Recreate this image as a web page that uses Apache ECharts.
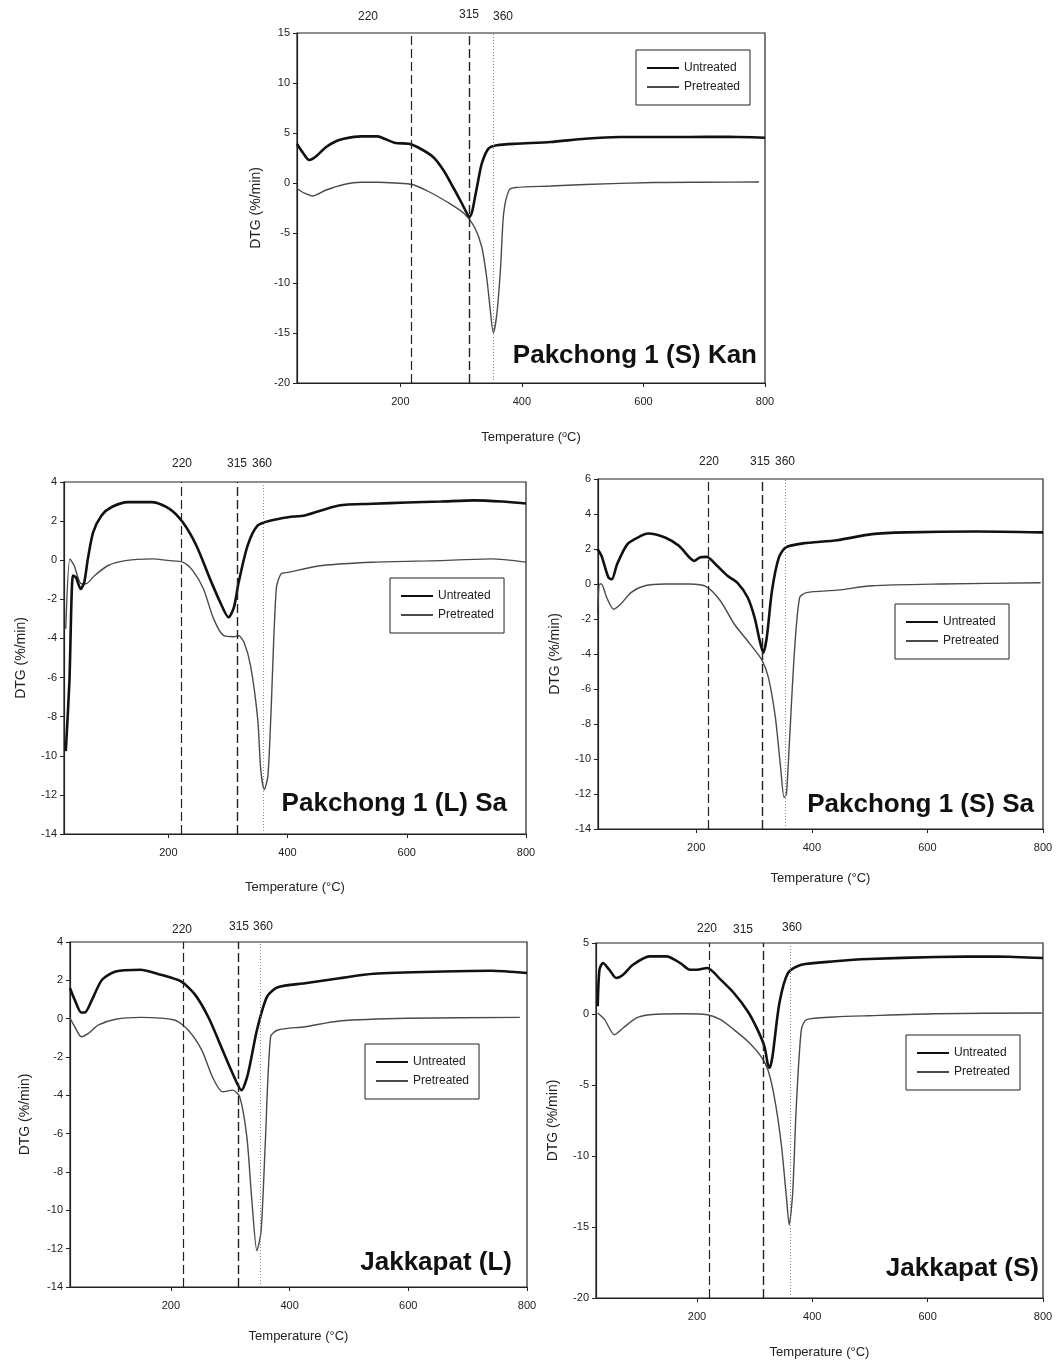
<!DOCTYPE html>
<html>
<head>
<meta charset="utf-8">
<script src="https://cdn.jsdelivr.net/npm/echarts@6/dist/echarts.min.js"></script>
<style>
html,body{margin:0;padding:0;background:#fff;}
#chart{width:1062px;height:1363px;}
</style>
</head>
<body>
<div id="chart"></div>
<script>
// ---------------- DATA ----------------
// Panel titles
const panelTitles = ['Pakchong 1 (S) Kan', 'Pakchong 1 (L) Sa', 'Pakchong 1 (S) Sa', 'Jakkapat (L)', 'Jakkapat (S)'];
const seriesNames = ['Untreated', 'Pretreated'];
const markerLabels = ['220', '315', '360'];

// Reference line positions (°C) for each panel: [dashed, dashed, dotted]
const kanMarkers = [218, 313, 353];
const lSaMarkers = [221, 315, 360];
const sSaMarkers = [220, 315, 354];
const jkLMarkers = [221, 313, 350];
const jkSMarkers = [221, 315, 361];

// y-axis ranges [min, max, interval]
const kanY = [-20, 15, 5];
const lSaY = [-14, 4, 2];
const sSaY = [-14, 6, 2];
const jkLY = [-14, 4, 2];
const jkSY = [-20, 5, 5];

const xTicks = [200, 400, 600, 800];

// Pakchong 1 (S) Kan
const kanUntreated = [[30,3.9],[40,3.0],[50,2.3],[60,2.6],[78,3.6],[95,4.2],[107,4.43],[135,4.66],[163,4.66],[175,4.4],[192,4.0],[214,3.93],[231,3.5],[254,2.6],[271,1.27],[288,-0.55],[300,-1.9],[311,-3.2],[314,-3.38],[318,-2.9],[322,-1.7],[328,0.2],[334,1.94],[345,3.43],[359,3.77],[390,3.93],[447,4.1],[504,4.43],[561,4.6],[674,4.6],[740,4.62],[800,4.53]];
const kanPretreated = [[30,-0.55],[40,-0.95],[50,-1.2],[55,-1.3],[78,-0.7],[107,-0.15],[135,0.08],[163,0.08],[192,0.0],[220,-0.15],[248,-0.9],[277,-1.9],[305,-3.05],[322,-4.4],[334,-6.4],[342,-9.4],[348,-12.7],[353,-15.0],[359,-13.0],[365,-8.4],[370,-3.05],[379,-0.7],[390,-0.45],[447,-0.3],[504,-0.15],[617,0.05],[700,0.08],[790,0.1]];

// Pakchong 1 (L) Sa
const lSaUntreated = [[28,-9.76],[34,-6.26],[40,-0.79],[45,-0.87],[53,-1.47],[59,-1.13],[65,0.07],[74,1.44],[88,2.29],[105,2.72],[133,2.97],[173,2.97],[202,2.63],[224,1.95],[247,0.75],[270,-0.96],[287,-2.15],[301,-2.92],[310,-2.41],[318,-1.13],[333,0.75],[350,1.78],[372,2.03],[401,2.2],[429,2.29],[486,2.8],[543,2.89],[600,2.95],[657,3.0],[713,3.06],[760,3.0],[800,2.9]];
const lSaPretreated = [[28,-3.5],[35,0.07],[42,-0.27],[54,-1.2],[62,-1.2],[76,-0.79],[99,-0.27],[128,-0.02],[173,0.07],[202,-0.02],[224,-0.1],[241,-0.53],[259,-1.47],[276,-3.0],[293,-3.86],[310,-3.91],[318,-3.86],[327,-4.2],[338,-5.4],[350,-8.14],[355,-10.7],[361,-11.73],[367,-11.04],[372,-7.97],[381,-1.47],[389,-0.7],[401,-0.62],[458,-0.27],[543,-0.1],[657,-0.02],[742,0.07],[800,-0.1]];

// Pakchong 1 (S) Sa
const sSaUntreated = [[29,2.0],[36,1.61],[48,0.37],[54,0.27],[63,1.13],[81,2.28],[105,2.76],[117,2.89],[146,2.66],[170,2.18],[188,1.52],[197,1.32],[206,1.52],[218,1.55],[236,1.04],[254,0.47],[271,0.08],[289,-0.77],[301,-1.92],[310,-3.26],[316,-3.92],[322,-3.06],[331,-0.39],[343,1.52],[355,2.09],[385,2.32],[444,2.5],[504,2.85],[563,2.95],[683,3.0],[800,2.95]];
const sSaPretreated = [[29,-1.73],[33,0.0],[36,0.0],[45,-0.77],[57,-1.44],[69,-1.16],[87,-0.49],[111,-0.1],[146,0.0],[188,0.0],[218,-0.16],[242,-0.97],[266,-2.3],[289,-3.26],[313,-4.31],[325,-5.36],[337,-7.65],[346,-10.5],[352,-12.2],[356,-12.0],[361,-9.17],[370,-3.83],[379,-0.77],[391,-0.49],[444,-0.35],[504,-0.1],[623,0.0],[796,0.07]];

// Jakkapat (L)
const jkLUntreated = [[30,1.59],[38,0.98],[49,0.32],[55,0.32],[67,0.98],[84,2.03],[107,2.46],[148,2.55],[183,2.29],[217,1.94],[241,1.24],[264,0.02],[287,-1.64],[304,-2.86],[319,-3.73],[330,-2.86],[345,-0.59],[362,1.15],[380,1.64],[426,1.85],[484,2.11],[542,2.34],[658,2.46],[740,2.5],[800,2.38]];
const jkLPretreated = [[30,0.02],[38,-0.42],[49,-0.94],[61,-0.77],[78,-0.33],[107,-0.03],[148,0.07],[206,-0.07],[229,-0.59],[252,-1.64],[270,-3.04],[287,-3.82],[304,-3.73],[316,-4.08],[328,-6.18],[336,-9.32],[345,-12.11],[352,-11.07],[359,-6.53],[368,-0.94],[380,-0.59],[426,-0.42],[484,-0.12],[600,0.02],[788,0.07]];

// Jakkapat (S)
const jkSUntreated = [[28,0.54],[31,3.12],[37,3.59],[48,3.12],[60,2.54],[72,2.77],[89,3.47],[118,4.06],[147,4.06],[171,3.59],[188,3.12],[200,3.12],[218,3.24],[241,2.42],[264,1.48],[288,0.19],[305,-1.1],[317,-2.28],[323,-3.57],[326,-3.8],[331,-2.98],[343,0.77],[358,2.89],[381,3.47],[439,3.71],[498,3.87],[614,4.01],[720,4.05],[800,3.94]];
const jkSPretreated = [[28,0.07],[40,-0.4],[57,-1.46],[72,-0.99],[95,-0.28],[118,-0.05],[177,0.02],[218,-0.05],[241,-0.4],[264,-1.1],[288,-1.92],[311,-2.98],[323,-3.92],[334,-5.8],[346,-9.08],[355,-12.84],[360,-14.84],[366,-12.6],[372,-6.74],[381,-1.1],[390,-0.4],[439,-0.21],[498,-0.12],[614,0.02],[798,0.07]];

// ---------------- LAYOUT ----------------
const panels = [
  {u: kanUntreated, p: kanPretreated, m: kanMarkers, y: kanY, xMin: 30, grid: {left: 297, top: 33, width: 468, height: 350},
   legend: {left: 636, top: 50}, yGap: 34, xGap: 47, supO: true,
   title: {x: 757, y: 369}, labels: [[368, 17], [469, 15], [503, 17]]},
  {u: lSaUntreated, p: lSaPretreated, m: lSaMarkers, y: lSaY, xMin: 25, grid: {left: 64, top: 482, width: 462, height: 352},
   legend: {left: 390, top: 578}, yGap: 36, xGap: 47,
   title: {x: 507, y: 817}, labels: [[182, 464], [237, 464], [262, 464]]},
  {u: sSaUntreated, p: sSaPretreated, m: sSaMarkers, y: sSaY, xMin: 30, grid: {left: 598, top: 479, width: 445, height: 350},
   legend: {left: 895, top: 604}, yGap: 36, xGap: 43,
   title: {x: 1034, y: 818}, labels: [[709, 462], [760, 462], [785, 462]]},
  {u: jkLUntreated, p: jkLPretreated, m: jkLMarkers, y: jkLY, xMin: 30, grid: {left: 70, top: 942, width: 457, height: 345},
   legend: {left: 365, top: 1044}, yGap: 38, xGap: 43,
   title: {x: 512, y: 1276}, labels: [[182, 930], [239, 927], [263, 927]]},
  {u: jkSUntreated, p: jkSPretreated, m: jkSMarkers, y: jkSY, xMin: 25, grid: {left: 596, top: 943, width: 447, height: 355},
   legend: {left: 906, top: 1035}, yGap: 36, xGap: 48,
   title: {x: 1039, y: 1282}, labels: [[707, 929], [743, 930], [792, 928]]}
];

const FONT = '"Liberation Sans", Arial, sans-serif';
const grids = [], xAxes = [], yAxes = [], series = [], legends = [], graphics = [];

panels.forEach((pn, i) => {
  grids.push(Object.assign({show: true, borderColor: '#222', borderWidth: 1.2, backgroundColor: 'transparent'}, pn.grid));
  xAxes.push({
    type: 'value', gridIndex: i, min: pn.xMin, max: 800,
    name: pn.supO ? 'Temperature ({s|o}C)' : 'Temperature (°C)',
    nameLocation: 'middle', nameGap: pn.xGap,
    nameTextStyle: {fontFamily: FONT, fontSize: 13, color: '#222', rich: {s: {fontSize: 9, verticalAlign: 'top', padding: [0, 0, 6, 0], fontFamily: FONT, color: '#222'}}},
    axisLine: {show: true, onZero: false, lineStyle: {color: '#222', width: 1.2}},
    axisTick: {show: true, inside: false, length: 4, customValues: xTicks, lineStyle: {color: '#222'}},
    axisLabel: {customValues: xTicks, fontFamily: FONT, fontSize: 11, color: '#222', margin: 13},
    splitLine: {show: false}
  });
  yAxes.push({
    type: 'value', gridIndex: i, min: pn.y[0], max: pn.y[1], interval: pn.y[2],
    name: 'DTG (%/min)', nameLocation: 'middle', nameGap: pn.yGap,
    nameTextStyle: {fontFamily: FONT, fontSize: 14, color: '#222'},
    axisLine: {show: true, onZero: false, lineStyle: {color: '#222', width: 1.2}},
    axisTick: {show: true, inside: false, length: 4, lineStyle: {color: '#222'}},
    axisLabel: {fontFamily: FONT, fontSize: 11, color: '#222', margin: 7},
    splitLine: {show: false}
  });
  series.push({
    name: seriesNames[0], type: 'line', xAxisIndex: i, yAxisIndex: i, data: pn.u,
    showSymbol: false, symbol: 'none', smooth: 0.25, z: 4,
    lineStyle: {color: '#111', width: 2.6}, itemStyle: {color: '#111'}
  });
  series.push({
    name: seriesNames[1], type: 'line', xAxisIndex: i, yAxisIndex: i, data: pn.p,
    showSymbol: false, symbol: 'none', smooth: 0.25, z: 3,
    lineStyle: {color: '#4a4a4a', width: 1.4}, itemStyle: {color: '#4a4a4a'},
    markLine: {
      silent: true, symbol: 'none', animation: false, label: {show: false},
      data: [
        {xAxis: pn.m[0], lineStyle: {color: '#222', width: 1.2, type: [9, 4]}},
        {xAxis: pn.m[1], lineStyle: {color: '#222', width: 1.4, type: [9, 4]}},
        {xAxis: pn.m[2], lineStyle: {color: '#888', width: 1, type: [1, 2]}}
      ]
    }
  });
  legends.push({
    data: seriesNames, orient: 'vertical', left: pn.legend.left, top: pn.legend.top,
    padding: [12, 10, 12, 10], itemGap: 7, itemWidth: 32, itemHeight: 12,
    borderColor: '#222', borderWidth: 1, backgroundColor: '#fff',
    selectedMode: false,
    itemStyle: {opacity: 0},
    textStyle: {fontFamily: FONT, fontSize: 12, color: '#222'}
  });
  graphics.push({
    type: 'text', x: pn.title.x, y: pn.title.y,
    style: {text: panelTitles[i], font: 'bold 26px ' + FONT, fill: '#111', align: 'right', verticalAlign: 'bottom'}, z: 10
  });
  pn.labels.forEach((pos, k) => {
    graphics.push({
      type: 'text', x: pos[0], y: pos[1],
      style: {text: markerLabels[k], font: '12px ' + FONT, fill: '#222', align: 'center', verticalAlign: 'middle'}, z: 10
    });
  });
});

const chart = echarts.init(document.getElementById('chart'), null, {renderer: 'canvas'});
chart.setOption({
  backgroundColor: '#fff',
  animation: false,
  grid: grids,
  xAxis: xAxes,
  yAxis: yAxes,
  legend: legends,
  series: series,
  graphic: graphics
});
</script>
</body>
</html>
